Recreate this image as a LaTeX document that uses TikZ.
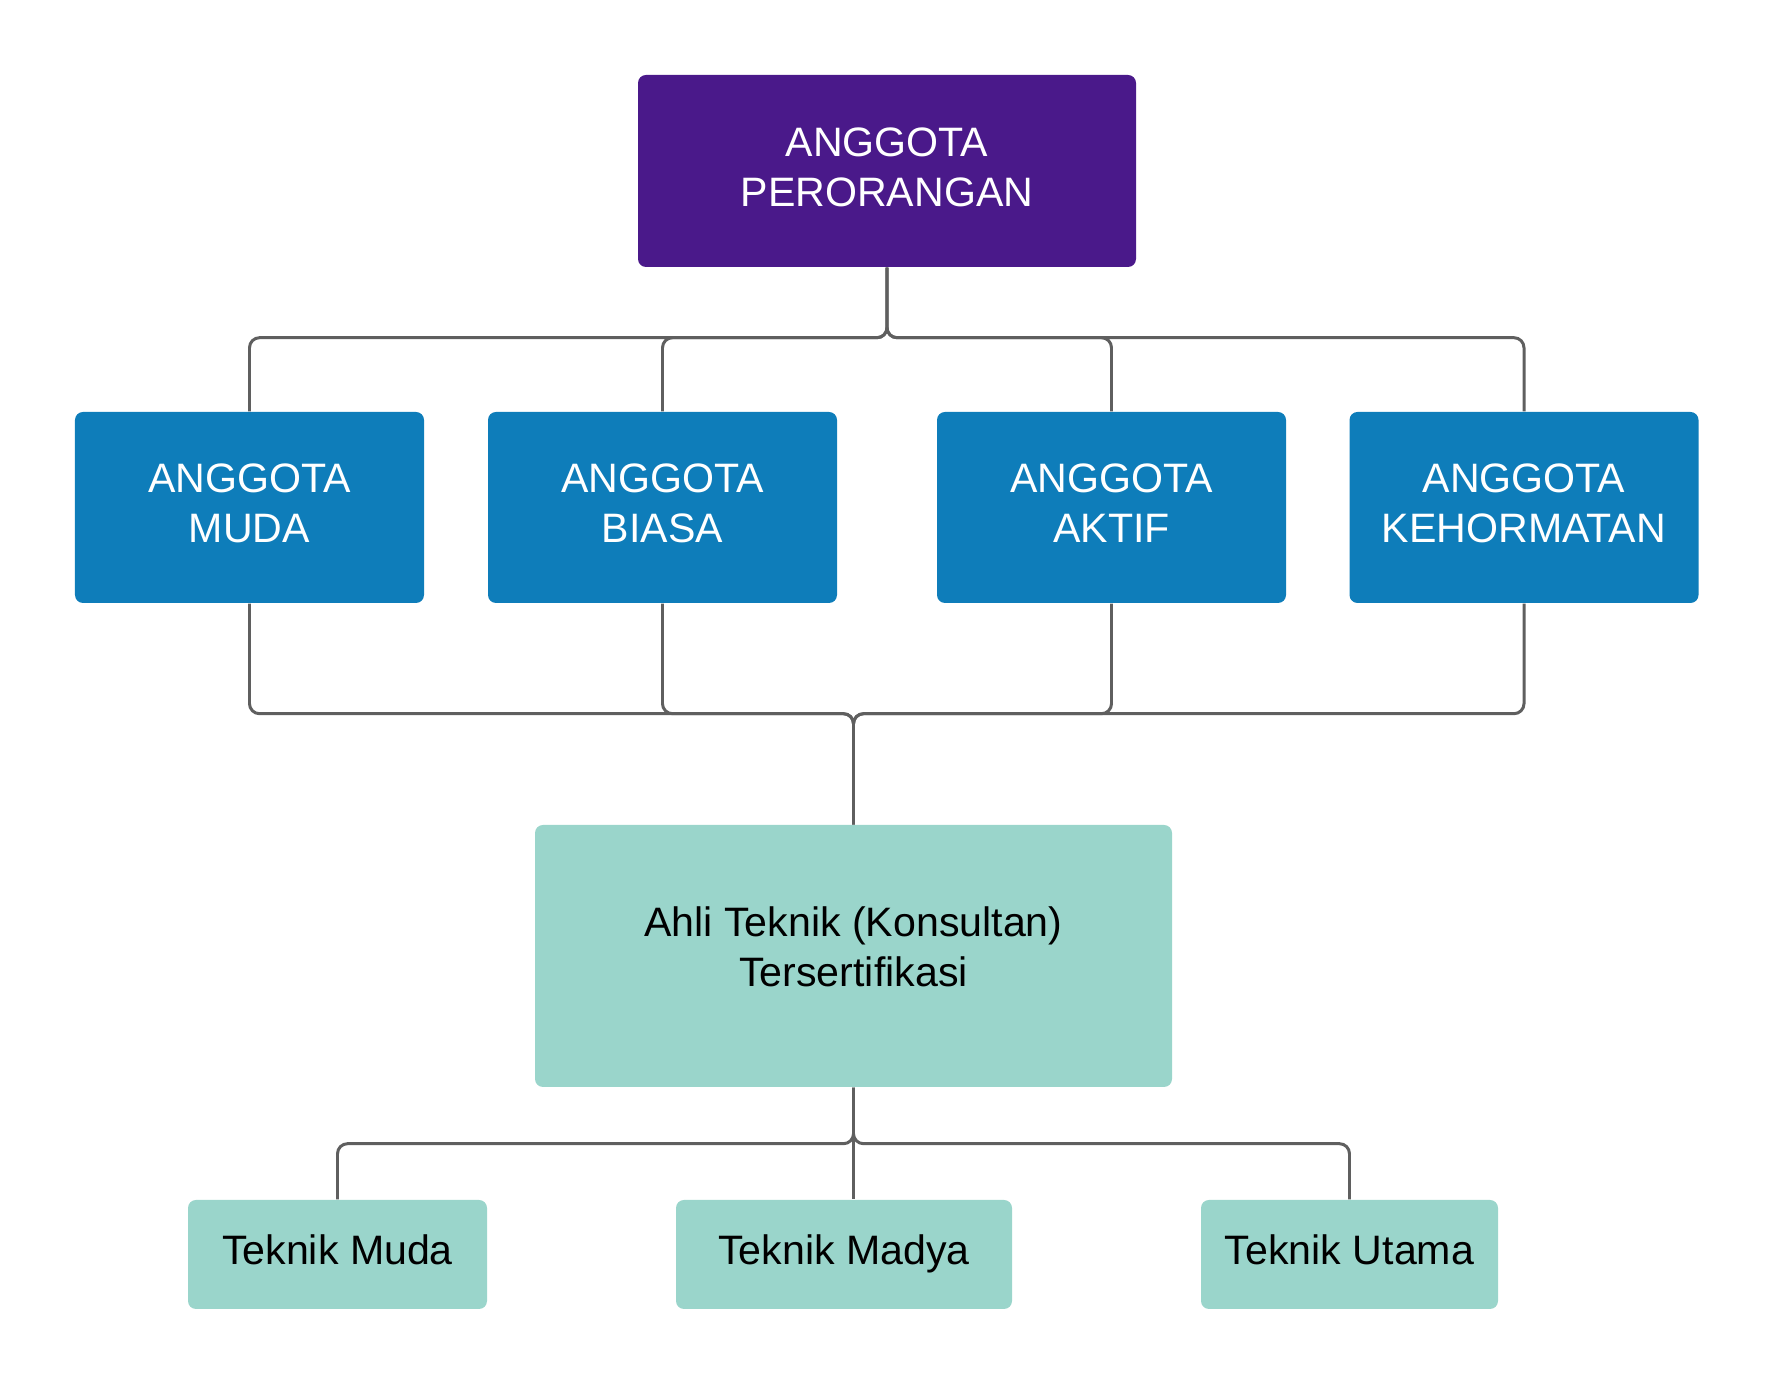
\documentclass[tikz,border=0pt]{standalone}
\usepackage{fontspec}
\setmainfont{Liberation Sans}
\definecolor{ungu}{HTML}{4A198A}
\definecolor{biru}{HTML}{0E7DBA}
\definecolor{tosca}{HTML}{9AD5CB}
\definecolor{garis}{HTML}{5F5F5F}
\tikzset{
    box/.style={rounded corners=0.08cm, inner sep=0pt, align=center, font=\fontsize{11.7}{14.2}\selectfont},
    small/.style={box, fill=tosca, minimum height=1.09cm, text height=0.3cm, text depth=0.09cm},
    link/.style={draw=garis, line width=0.85pt, rounded corners=0.1cm}
}
\begin{document}
\begin{tikzpicture}
    \useasboundingbox (0,0) rectangle (17.74,-13.84);
    %level 1
    \node[box, fill=ungu, text=white, minimum width=4.98cm, minimum height=1.92cm] (top) at (8.87,-1.71) {ANGGOTA\\PERORANGAN\\[-0.42cm]};
    %level 2
    \node[box, fill=biru, text=white, minimum width=3.49cm, minimum height=1.91cm] (muda) at (2.495,-5.075) {ANGGOTA\\MUDA\\[-0.42cm]};
    \node[box, fill=biru, text=white, minimum width=3.49cm, minimum height=1.91cm] (biasa) at (6.625,-5.075) {ANGGOTA\\BIASA\\[-0.42cm]};
    \node[box, fill=biru, text=white, minimum width=3.49cm, minimum height=1.91cm] (aktif) at (11.115,-5.075) {ANGGOTA\\AKTIF\\[-0.42cm]};
    \node[box, fill=biru, text=white, minimum width=3.49cm, minimum height=1.91cm] (hormat) at (15.24,-5.075) {ANGGOTA\\KEHORMATAN\\[-0.42cm]};
    %level 3
    \node[box, fill=tosca, minimum width=6.37cm, minimum height=2.62cm] (ahli) at (8.535,-9.56) {Ahli Teknik (Konsultan)\\Tersertifikasi\\[-0.32cm]};
    %level 4
    \node[small, minimum width=2.99cm] (tmuda) at (3.375,-12.545) {Teknik Muda};
    \node[small, minimum width=3.36cm] (tmadya) at (8.44,-12.545) {Teknik Madya};
    \node[small, minimum width=2.97cm] (tutama) at (13.495,-12.545) {Teknik Utama};
    %connectors
    \draw[link] (top.south) -- ++(0,-0.7) -| (muda.north);
    \draw[link] (top.south) -- ++(0,-0.7) -| (biasa.north);
    \draw[link] (top.south) -- ++(0,-0.7) -| (aktif.north);
    \draw[link] (top.south) -- ++(0,-0.7) -| (hormat.north);
    \draw[link] (muda.south) -- ++(0,-1.1) -| (ahli.north);
    \draw[link] (biasa.south) -- ++(0,-1.1) -| (ahli.north);
    \draw[link] (aktif.south) -- ++(0,-1.1) -| (ahli.north);
    \draw[link] (hormat.south) -- ++(0,-1.1) -| (ahli.north);
    \draw[link] (ahli.south) -- ++(0,-0.56) -| (tmuda.north);
    \draw[link] (ahli.south) -- (ahli.south |- tmadya.north);
    \draw[link] (ahli.south) -- ++(0,-0.56) -| (tutama.north);
\end{tikzpicture}
\end{document}
